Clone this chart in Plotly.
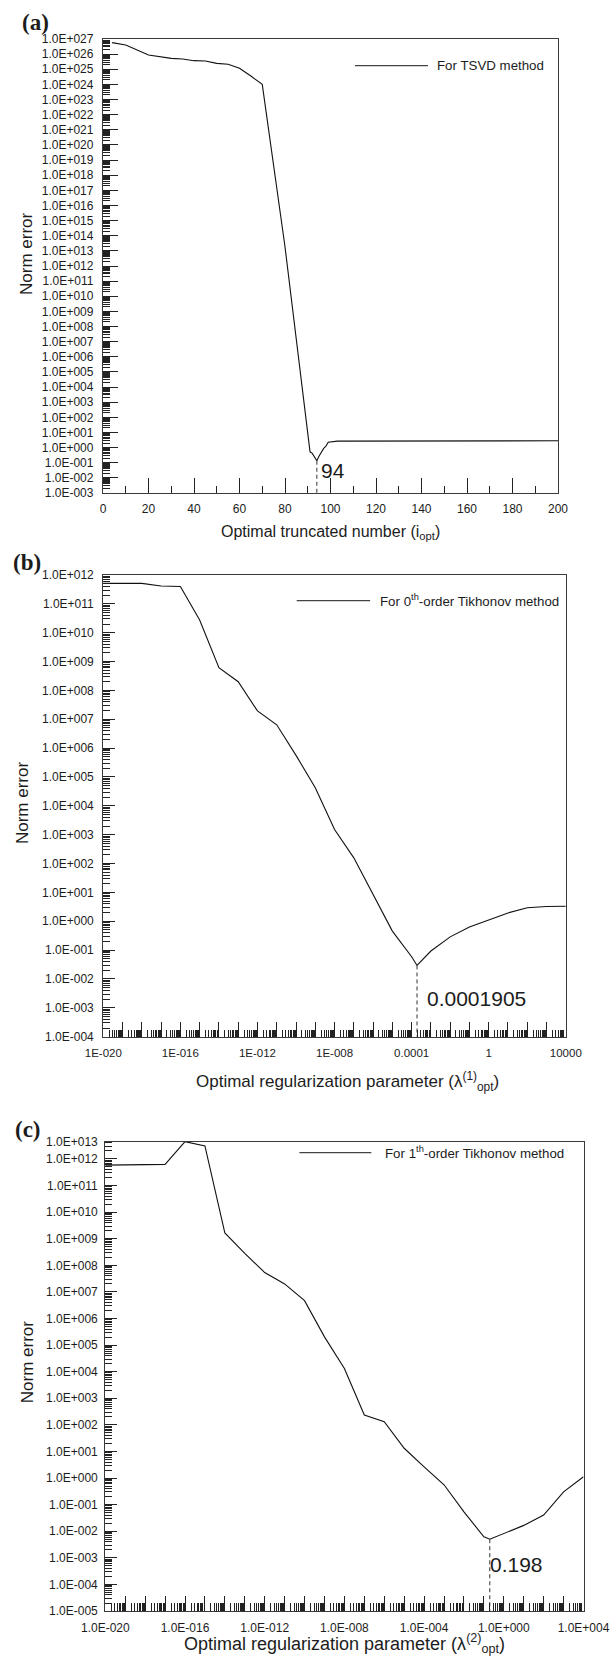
import numpy as np
import plotly.graph_objects as go

# ---------------- data ----------------
# (a) TSVD: norm error versus truncation number
tsvd_i = [4, 10, 20, 30, 35, 40, 45, 50, 55, 60, 65, 70, 80, 87,
          91, 92, 94, 95, 96, 97, 98, 99, 103, 200]
tsvd_err = [5.75e26, 3.98e26, 8.7e25, 5.25e25, 4.8e25, 3.7e25, 3.55e25,
            2.45e25, 2.14e25, 1.15e25, 3.55e24, 1.0e24, 1.86e13, 2.9e4,
            0.525, 0.417, 0.135, 0.275, 0.525, 0.89, 1.26, 2.29, 2.69, 2.82]
tsvd_opt = 94

# (b) 0th-order Tikhonov: norm error versus regularization parameter
tik0_lam = [1e-20, 1e-18, 1e-17, 1e-16, 1e-15, 1e-14, 1e-13, 1e-12, 1e-11,
            1e-10, 1e-9, 1e-8, 1e-7, 1e-6, 1e-5, 1e-4, 1.905e-4, 1e-3,
            1e-2, 1e-1, 1, 10, 100, 1000, 1e4]
tik0_err = [5.13e11, 5.13e11, 4.17e11, 3.98e11, 2.75e10, 6.17e8, 2.0e8,
            1.95e7, 6.46e6, 5.62e5, 4.27e4, 1.51e3, 158, 8.5, 0.457, 0.0589,
            0.0295, 0.0933, 0.288, 0.63, 1.12, 1.95, 2.95, 3.24, 3.31]
tik0_opt = 1.905e-4

# (c) 1st-order Tikhonov: norm error versus regularization parameter
tik1_lam = [1e-20, 1e-17, 1e-16, 1e-15, 1e-14, 1e-13, 1e-12, 1e-11, 1e-10,
            1e-9, 1e-8, 1e-7, 1e-6, 1e-5, 1e-4, 1e-3, 1e-2, 1e-1, 0.198,
            1, 10, 100, 1000, 1e4]
tik1_err = [5.9e11, 6.3e11, 4.47e12, 3.09e12, 1.66e9, 2.82e8, 5.37e7, 2.0e7,
            4.68e6, 2.04e5, 1.32e4, 234, 132, 13.2, 2.63, 0.56, 0.0537,
            0.00617, 0.00501, 0.0083, 0.0166, 0.0407, 0.302, 1.12]
tik1_opt = 0.198

# tick labels
a_x_ticks = list(range(0, 201, 20))
a_y_exp = list(range(-3, 28))
b_x_exp = list(range(-20, 5))
b_x_labels = {-20: "1E-020", -16: "1E-016", -12: "1E-012", -8: "1E-008",
              -4: "0.0001", 0: "1", 4: "10000"}
b_y_exp = list(range(-4, 13))
c_x_exp = list(range(-20, 5))
c_x_labels = {-20: "1.0E-020", -16: "1.0E-016", -12: "1.0E-012",
              -8: "1.0E-008", -4: "1.0E-004", 0: "1.0E+000", 4: "1.0E+004"}
c_y_exp = list(range(-5, 13))

# ---------------- helpers ----------------
W, H = 616, 1657
FONT = "Liberation Sans, Arial, Helvetica, sans-serif"
SERIF = "Liberation Serif, Times New Roman, serif"
INK = "#1c1c1c"


def sci(n):
    return f"1.0E{n:+04d}"


def xdom(left, right):
    return [left / W, right / W]


def ydom(top, bottom):
    return [1 - bottom / H, 1 - top / H]


def log_minor(lo, hi):
    return [k * 10.0 ** n for n in range(lo, hi) for k in range(2, 10)]


def tickfont(size):
    return dict(family=FONT, size=size, color=INK)


base = dict(showline=True, mirror=True, linecolor="#3a3a3a", linewidth=1.3,
            showgrid=False, zeroline=False, automargin=False,
            ticks="inside", tickcolor="#222", tickwidth=1,
            tickfont=tickfont(12))


def minor(vals, length):
    return dict(tickmode="array", tickvals=vals, ticks="inside",
                ticklen=length, tickcolor="#222", tickwidth=1, showgrid=False)


fig = go.Figure()

curve = dict(color="#111", width=1.1)
dash = dict(color="#333", width=1, dash="4px,3px")

# (a)
fig.add_trace(go.Scatter(x=tsvd_i, y=tsvd_err, mode="lines", line=curve,
                         xaxis="x", yaxis="y", showlegend=False))
fig.add_trace(go.Scatter(x=[tsvd_opt, tsvd_opt],
                         y=[tsvd_err[tsvd_i.index(tsvd_opt)], 10.0 ** a_y_exp[0]],
                         mode="lines", line=dash, xaxis="x", yaxis="y",
                         showlegend=False))
# (b)
fig.add_trace(go.Scatter(x=tik0_lam, y=tik0_err, mode="lines", line=curve,
                         xaxis="x2", yaxis="y2", showlegend=False))
fig.add_trace(go.Scatter(x=[tik0_opt, tik0_opt],
                         y=[tik0_err[tik0_lam.index(tik0_opt)], 10.0 ** b_y_exp[0]],
                         mode="lines", line=dash, xaxis="x2", yaxis="y2",
                         showlegend=False))
# (c)
fig.add_trace(go.Scatter(x=tik1_lam, y=tik1_err, mode="lines", line=curve,
                         xaxis="x3", yaxis="y3", showlegend=False))
fig.add_trace(go.Scatter(x=[tik1_opt, tik1_opt],
                         y=[tik1_err[tik1_lam.index(tik1_opt)], 10.0 ** c_y_exp[0]],
                         mode="lines", line=dash, xaxis="x3", yaxis="y3",
                         showlegend=False))

c_top = float(np.log10(max(tik1_err)))

layout = dict(
    template="none",
    width=W, height=H, margin=dict(l=0, r=0, t=0, b=0, pad=0),
    paper_bgcolor="white", plot_bgcolor="white", showlegend=False,
    xaxis=dict(base, domain=xdom(103, 558), anchor="y", range=[0, 200],
               tickmode="array", tickvals=a_x_ticks, ticklen=15,
               ticklabelstandoff=4,
               minor=minor(list(range(10, 200, 20)), 7)),
    yaxis=dict(base, domain=ydom(39, 493), anchor="x", type="log",
               range=[a_y_exp[0], a_y_exp[-1]], tickmode="array",
               tickvals=[10.0 ** n for n in a_y_exp],
               ticktext=[sci(n) for n in a_y_exp], ticklen=15,
               ticklabelstandoff=6,
               minor=minor(log_minor(a_y_exp[0], a_y_exp[-1]), 7)),
    xaxis2=dict(base, domain=xdom(103.3, 565.8), anchor="y2", type="log",
                range=[b_x_exp[0], b_x_exp[-1]], tickmode="array",
                tickvals=[10.0 ** n for n in b_x_exp],
                ticktext=[b_x_labels.get(n, "") for n in b_x_exp],
                tickfont=tickfont(11.5),
                ticklen=15, ticklabelstandoff=5,
                minor=minor(log_minor(b_x_exp[0], b_x_exp[-1]), 7)),
    yaxis2=dict(base, domain=ydom(575, 1036.7), anchor="x2", type="log",
                range=[b_y_exp[0], b_y_exp[-1]], tickmode="array",
                tickvals=[10.0 ** n for n in b_y_exp],
                ticktext=[sci(n) for n in b_y_exp], ticklen=12,
                ticklabelstandoff=6,
                minor=minor(log_minor(b_y_exp[0], b_y_exp[-1]), 7)),
    xaxis3=dict(base, domain=xdom(105.3, 583.5), anchor="y3", type="log",
                range=[c_x_exp[0], c_x_exp[-1]], tickmode="array",
                tickvals=[10.0 ** n for n in c_x_exp],
                ticktext=[c_x_labels.get(n, "") for n in c_x_exp],
                ticklen=15, ticklabelstandoff=5,
                minor=minor(log_minor(c_x_exp[0], c_x_exp[-1]), 8)),
    yaxis3=dict(base, domain=ydom(1141.7, 1611), anchor="x3", type="log",
                range=[c_y_exp[0], c_top], tickmode="array",
                tickvals=[10.0 ** n for n in c_y_exp] + [10.0 ** c_top],
                ticktext=[sci(n) for n in c_y_exp] + [sci(13)], ticklen=12,
                ticklabelstandoff=4,
                minor=minor([v for v in log_minor(c_y_exp[0], 13)
                             if v <= 10.0 ** c_top], 7)),
)

annotations = []
shapes = []


def text(x, y, s, size, xanchor="center", **kw):
    annotations.append(dict(x=x / W, y=1 - y / H, xref="paper", yref="paper",
                            text=s, showarrow=False, xanchor=xanchor,
                            yanchor="middle",
                            font=dict(family=kw.pop("family", FONT), size=size,
                                      color=INK), **kw))


# panel letters
text(35, 22.5, "<b>(a)</b>", 23, family=SERIF)
text(27, 563, "<b>(b)</b>", 23, family=SERIF)
text(27.5, 1129, "<b>(c)</b>", 23, family=SERIF)

# axis titles
text(27, 254, "Norm error", 17, textangle=-90)
text(22.6, 802.5, "Norm error", 17, textangle=-90)
text(27.5, 1361.7, "Norm error", 17, textangle=-90)
text(330, 532.5, "Optimal truncated number (i<sub>opt</sub>)", 16)
text(347, 1081, "Optimal regularization parameter (λ<sup>(1)</sup><sub>opt</sub>)", 17)
text(344, 1643, "Optimal regularization parameter (λ<sup>(2)</sup><sub>opt</sub>)", 18)

# legend entries
for (x0, x1, y, tx, label) in [
        (355, 428, 65.7, 435, "For TSVD method"),
        (296.7, 370.1, 600.7, 378, "For 0<sup>th</sup>-order Tikhonov method"),
        (299.4, 371.3, 1152.7, 383, "For 1<sup>th</sup>-order Tikhonov method")]:
    shapes.append(dict(type="line", xref="paper", yref="paper",
                       x0=x0 / W, x1=x1 / W, y0=1 - y / H, y1=1 - y / H,
                       line=dict(color="#444", width=1.3)))
    text(tx, y, label, 13.3, xanchor="left")

# optimum labels
opt_font = dict(family=FONT, size=21, color=INK)
annotations.append(dict(x=tsvd_opt, xref="x", y=0.05, yref="y domain",
                        text=str(tsvd_opt), showarrow=False, xanchor="left",
                        yanchor="middle", xshift=2, font=opt_font))
annotations.append(dict(x=float(np.log10(tik0_opt)), xref="x2", y=0.082,
                        yref="y2 domain", text="0.0001905", showarrow=False,
                        xanchor="left", yanchor="middle", xshift=8,
                        font=opt_font))
annotations.append(dict(x=float(np.log10(tik1_opt)), xref="x3", y=0.10,
                        yref="y3 domain", text="0.198", showarrow=False,
                        xanchor="left", yanchor="middle", xshift=-2,
                        font=opt_font))

layout["annotations"] = annotations
layout["shapes"] = shapes
fig.update_layout(**layout)

fig.write_html("out.html")
